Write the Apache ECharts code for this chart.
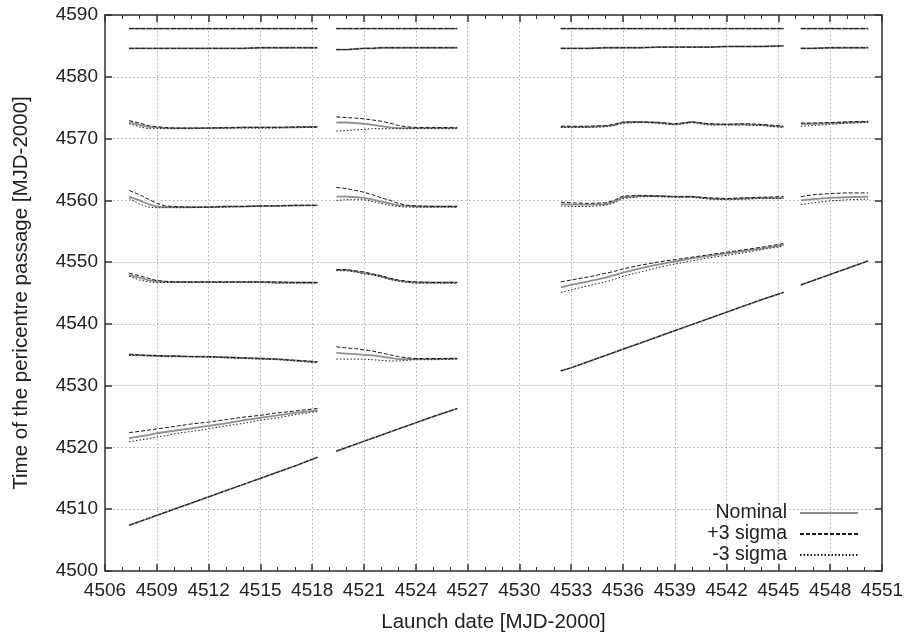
<!DOCTYPE html>
<html>
<head>
<meta charset="utf-8">
<script src="https://cdn.jsdelivr.net/npm/echarts@6/dist/echarts.min.js"></script>
<style>
html,body{margin:0;padding:0;background:#fff;overflow:hidden;}
#chart{width:906px;height:634px;}
</style>
</head>
<body>
<div id="chart"></div>
<script>
// Launch-date samples for the four launch windows
const xA = [4507.4, 4508, 4508.5, 4509, 4509.5, 4510, 4511, 4512, 4513, 4514, 4515, 4516, 4517, 4518.3];
const xB = [4519.4, 4520, 4520.5, 4521, 4521.5, 4522, 4522.5, 4523, 4523.5, 4524, 4525, 4526.4];
const xC = [4532.4, 4533, 4534, 4535, 4535.5, 4536, 4537, 4538, 4539, 4540, 4541, 4542, 4543, 4544, 4545.3];
const xD = [4546.3, 4547, 4548, 4549, 4550.2];

// Window A branches
const nomA = [
  [4587.8,4587.8,4587.8,4587.8,4587.8,4587.8,4587.8,4587.8,4587.8,4587.8,4587.8,4587.8,4587.8,4587.8],
  [4584.6,4584.6,4584.6,4584.6,4584.6,4584.6,4584.6,4584.6,4584.6,4584.6,4584.7,4584.7,4584.7,4584.7],
  [4572.6,4572.2,4571.9,4571.8,4571.7,4571.7,4571.7,4571.7,4571.7,4571.8,4571.8,4571.8,4571.8,4571.9],
  [4560.6,4560.0,4559.4,4559.0,4558.9,4558.9,4558.9,4558.9,4559.0,4559.0,4559.1,4559.1,4559.2,4559.2],
  [4547.9,4547.5,4547.1,4546.9,4546.8,4546.8,4546.8,4546.8,4546.8,4546.8,4546.8,4546.7,4546.7,4546.7],
  [4535.0,4534.9,4534.9,4534.8,4534.8,4534.8,4534.7,4534.7,4534.6,4534.5,4534.4,4534.3,4534.1,4533.8],
  [4521.5,4521.8,4522.0,4522.3,4522.5,4522.7,4523.1,4523.5,4523.9,4524.4,4524.8,4525.2,4525.6,4526.0],
  [4507.4,4508.0,4508.5,4509.0,4509.5,4510.0,4511.0,4512.0,4513.0,4514.0,4515.0,4516.0,4517.0,4518.4]
];
const plusA = [
  [4587.8,4587.8,4587.8,4587.8,4587.8,4587.8,4587.8,4587.8,4587.8,4587.8,4587.8,4587.8,4587.8,4587.8],
  [4584.6,4584.6,4584.6,4584.6,4584.6,4584.6,4584.6,4584.6,4584.6,4584.6,4584.7,4584.7,4584.7,4584.7],
  [4572.9,4572.5,4572.1,4571.9,4571.8,4571.7,4571.7,4571.7,4571.8,4571.8,4571.8,4571.8,4571.9,4571.9],
  [4561.6,4560.9,4560.2,4559.5,4559.1,4559.0,4558.9,4558.9,4559.0,4559.0,4559.1,4559.1,4559.2,4559.2],
  [4548.2,4547.8,4547.4,4547.0,4546.9,4546.8,4546.8,4546.8,4546.8,4546.8,4546.8,4546.8,4546.7,4546.7],
  [4535.1,4535.0,4534.9,4534.9,4534.8,4534.8,4534.7,4534.7,4534.6,4534.5,4534.4,4534.3,4534.1,4533.9],
  [4522.4,4522.6,4522.8,4523.0,4523.2,4523.4,4523.8,4524.1,4524.5,4524.9,4525.2,4525.6,4525.9,4526.3],
  [4507.4,4508.0,4508.5,4509.0,4509.5,4510.0,4511.0,4512.0,4513.0,4514.0,4515.0,4516.0,4517.0,4518.4]
];
const minusA = [
  [4587.8,4587.8,4587.8,4587.8,4587.8,4587.8,4587.8,4587.8,4587.8,4587.8,4587.8,4587.8,4587.8,4587.8],
  [4584.6,4584.6,4584.6,4584.6,4584.6,4584.6,4584.6,4584.6,4584.6,4584.6,4584.7,4584.7,4584.7,4584.7],
  [4572.4,4571.9,4571.6,4571.6,4571.6,4571.6,4571.6,4571.7,4571.7,4571.7,4571.7,4571.7,4571.8,4571.8],
  [4560.3,4559.4,4558.9,4558.8,4558.8,4558.8,4558.8,4558.9,4558.9,4559.0,4559.0,4559.1,4559.1,4559.2],
  [4547.7,4547.1,4546.8,4546.7,4546.7,4546.7,4546.7,4546.7,4546.7,4546.7,4546.7,4546.6,4546.6,4546.6],
  [4534.9,4534.9,4534.8,4534.8,4534.7,4534.7,4534.7,4534.6,4534.5,4534.4,4534.3,4534.2,4534.0,4533.7],
  [4520.9,4521.2,4521.4,4521.7,4521.9,4522.2,4522.6,4523.0,4523.5,4523.9,4524.4,4524.8,4525.3,4525.8],
  [4507.4,4508.0,4508.5,4509.0,4509.5,4510.0,4511.0,4512.0,4513.0,4514.0,4515.0,4516.0,4517.0,4518.4]
];

// Window B branches
const nomB = [
  [4587.8,4587.8,4587.8,4587.8,4587.8,4587.8,4587.8,4587.8,4587.8,4587.8,4587.8,4587.8],
  [4584.4,4584.4,4584.5,4584.6,4584.6,4584.7,4584.7,4584.7,4584.7,4584.7,4584.7,4584.7],
  [4572.6,4572.6,4572.5,4572.4,4572.2,4572.0,4571.8,4571.7,4571.7,4571.7,4571.7,4571.7],
  [4560.6,4560.6,4560.5,4560.4,4560.1,4559.8,4559.5,4559.2,4559.1,4559.0,4559.0,4559.0],
  [4548.7,4548.7,4548.5,4548.2,4548.0,4547.7,4547.3,4547.0,4546.8,4546.7,4546.7,4546.7],
  [4535.3,4535.2,4535.1,4535.0,4534.9,4534.7,4534.5,4534.3,4534.3,4534.3,4534.3,4534.4],
  [4519.4,4520.0,4520.5,4521.0,4521.5,4522.0,4522.5,4523.0,4523.5,4524.0,4525.0,4526.3]
];
const plusB = [
  [4587.8,4587.8,4587.8,4587.8,4587.8,4587.8,4587.8,4587.8,4587.8,4587.8,4587.8,4587.8],
  [4584.4,4584.4,4584.5,4584.6,4584.6,4584.7,4584.7,4584.7,4584.7,4584.7,4584.7,4584.7],
  [4573.5,4573.4,4573.3,4573.2,4573.0,4572.8,4572.5,4572.1,4571.9,4571.8,4571.8,4571.8],
  [4562.1,4561.9,4561.6,4561.3,4560.9,4560.4,4560.0,4559.5,4559.2,4559.1,4559.0,4559.0],
  [4548.8,4548.8,4548.6,4548.4,4548.1,4547.8,4547.4,4547.1,4546.9,4546.8,4546.7,4546.7],
  [4536.3,4536.1,4536.0,4535.8,4535.6,4535.3,4535.0,4534.7,4534.5,4534.4,4534.4,4534.4],
  [4519.4,4520.0,4520.5,4521.0,4521.5,4522.0,4522.5,4523.0,4523.5,4524.0,4525.0,4526.3]
];
const minusB = [
  [4587.8,4587.8,4587.8,4587.8,4587.8,4587.8,4587.8,4587.8,4587.8,4587.8,4587.8,4587.8],
  [4584.4,4584.4,4584.5,4584.6,4584.6,4584.7,4584.7,4584.7,4584.7,4584.7,4584.7,4584.7],
  [4571.2,4571.3,4571.4,4571.5,4571.6,4571.6,4571.6,4571.6,4571.6,4571.6,4571.6,4571.6],
  [4560.0,4560.1,4560.1,4560.1,4559.8,4559.5,4559.2,4559.0,4558.9,4558.9,4558.9,4558.9],
  [4548.6,4548.6,4548.4,4548.1,4547.9,4547.6,4547.2,4546.9,4546.7,4546.6,4546.6,4546.6],
  [4534.3,4534.3,4534.3,4534.3,4534.2,4534.1,4534.0,4534.0,4534.1,4534.2,4534.2,4534.3],
  [4519.4,4520.0,4520.5,4521.0,4521.5,4522.0,4522.5,4523.0,4523.5,4524.0,4525.0,4526.3]
];

// Window C branches
const nomC = [
  [4587.8,4587.8,4587.8,4587.8,4587.8,4587.8,4587.8,4587.8,4587.8,4587.8,4587.8,4587.8,4587.8,4587.8,4587.8],
  [4584.6,4584.6,4584.6,4584.7,4584.7,4584.7,4584.7,4584.8,4584.8,4584.8,4584.8,4584.9,4584.9,4584.9,4585.0],
  [4571.9,4571.9,4571.9,4572.0,4572.2,4572.6,4572.7,4572.6,4572.3,4572.7,4572.3,4572.3,4572.3,4572.2,4571.9],
  [4559.4,4559.3,4559.3,4559.4,4559.8,4560.5,4560.7,4560.7,4560.6,4560.6,4560.3,4560.2,4560.3,4560.4,4560.4],
  [4545.9,4546.3,4546.9,4547.5,4547.9,4548.3,4549.0,4549.6,4550.1,4550.6,4551.0,4551.4,4551.8,4552.2,4552.8],
  [4532.4,4532.9,4533.9,4534.9,4535.4,4535.9,4536.9,4537.9,4538.9,4539.9,4540.9,4541.9,4542.9,4543.9,4545.1]
];
const plusC = [
  [4587.8,4587.8,4587.8,4587.8,4587.8,4587.8,4587.8,4587.8,4587.8,4587.8,4587.8,4587.8,4587.8,4587.8,4587.8],
  [4584.6,4584.6,4584.6,4584.7,4584.7,4584.7,4584.7,4584.8,4584.8,4584.8,4584.8,4584.9,4584.9,4584.9,4585.0],
  [4572.0,4572.0,4572.0,4572.1,4572.3,4572.7,4572.7,4572.6,4572.4,4572.7,4572.4,4572.3,4572.4,4572.3,4572.0],
  [4559.7,4559.6,4559.5,4559.6,4560.0,4560.7,4560.8,4560.7,4560.6,4560.6,4560.4,4560.3,4560.4,4560.5,4560.6],
  [4546.8,4547.1,4547.6,4548.2,4548.5,4548.9,4549.5,4550.0,4550.4,4550.8,4551.2,4551.6,4552.0,4552.4,4553.0],
  [4532.4,4532.9,4533.9,4534.9,4535.4,4535.9,4536.9,4537.9,4538.9,4539.9,4540.9,4541.9,4542.9,4543.9,4545.1]
];
const minusC = [
  [4587.8,4587.8,4587.8,4587.8,4587.8,4587.8,4587.8,4587.8,4587.8,4587.8,4587.8,4587.8,4587.8,4587.8,4587.8],
  [4584.6,4584.6,4584.6,4584.7,4584.7,4584.7,4584.7,4584.8,4584.8,4584.8,4584.8,4584.9,4584.9,4584.9,4585.0],
  [4571.8,4571.8,4571.8,4571.9,4572.1,4572.5,4572.6,4572.5,4572.2,4572.6,4572.2,4572.2,4572.2,4572.1,4571.8],
  [4559.1,4559.0,4559.0,4559.2,4559.6,4560.3,4560.6,4560.6,4560.5,4560.5,4560.2,4560.1,4560.2,4560.3,4560.3],
  [4545.1,4545.5,4546.2,4546.8,4547.2,4547.7,4548.4,4549.1,4549.7,4550.2,4550.7,4551.1,4551.5,4552.0,4552.6],
  [4532.4,4532.9,4533.9,4534.9,4535.4,4535.9,4536.9,4537.9,4538.9,4539.9,4540.9,4541.9,4542.9,4543.9,4545.1]
];

// Window D branches
const nomD = [
  [4587.8,4587.8,4587.8,4587.8,4587.8],
  [4584.6,4584.6,4584.7,4584.7,4584.7],
  [4572.4,4572.4,4572.5,4572.6,4572.7],
  [4560.0,4560.2,4560.4,4560.5,4560.6],
  [4546.3,4547.0,4548.0,4549.0,4550.2]
];
const plusD = [
  [4587.8,4587.8,4587.8,4587.8,4587.8],
  [4584.6,4584.6,4584.7,4584.7,4584.7],
  [4572.5,4572.5,4572.6,4572.7,4572.8],
  [4560.6,4560.9,4561.1,4561.2,4561.2],
  [4546.3,4547.0,4548.0,4549.0,4550.2]
];
const minusD = [
  [4587.8,4587.8,4587.8,4587.8,4587.8],
  [4584.6,4584.6,4584.7,4584.7,4584.7],
  [4572.0,4572.1,4572.3,4572.5,4572.6],
  [4559.3,4559.6,4559.9,4560.1,4560.2],
  [4546.3,4547.0,4548.0,4549.0,4550.2]
];

const seriesNames = ['Nominal', '+3 sigma', '-3 sigma'];
const xTitle = 'Launch date [MJD-2000]';
const yTitle = 'Time of the pericentre passage [MJD-2000]';

const windows = [
  [xA, nomA, plusA, minusA],
  [xB, nomB, plusB, minusB],
  [xC, nomC, plusC, minusC],
  [xD, nomD, plusD, minusD]
];

const styles = [
  { color: '#8f8f8f', width: 1.8, type: 'solid', z: 2 },
  { color: '#1a1a1a', width: 1, type: [4, 2], z: 3 },
  { color: '#1a1a1a', width: 1, type: [1.5, 2], z: 4 }
];

const series = [];
for (let k = 0; k < 3; k++) {
  windows.forEach(w => {
    const xs = w[0];
    w[k + 1].forEach(ys => {
      series.push({
        name: seriesNames[k],
        type: 'line',
        symbol: 'none',
        showSymbol: false,
        silent: true,
        animation: false,
        z: styles[k].z,
        itemStyle: { color: styles[k].color },
        lineStyle: { color: styles[k].color, width: styles[k].width, type: styles[k].type },
        data: xs.map((x, i) => [x, ys[i]])
      });
    });
  });
}

const font = 'Liberation Sans, Arial, Helvetica, sans-serif';
const axisColor = '#333';
const plain = v => String(v);

const chart = echarts.init(document.getElementById('chart'));
chart.setOption({
  backgroundColor: '#fff',
  animation: false,
  grid: { left: 105, right: 24, top: 15, bottom: 63, containLabel: false, outerBoundsMode: 'none' },
  legend: {
    data: seriesNames,
    orient: 'vertical',
    align: 'right',
    right: 47,
    bottom: 69,
    itemWidth: 58,
    itemHeight: 14,
    itemGap: 1,
    padding: 0,
    selectedMode: false,
    itemStyle: { opacity: 0 },
    textStyle: { fontFamily: font, fontSize: 19.5, color: '#222', padding: [0, 8, 0, 0] }
  },
  xAxis: [
    {
      type: 'value', min: 4506, max: 4551, interval: 3, position: 'bottom',
      name: xTitle, nameLocation: 'middle', nameGap: 41,
      nameTextStyle: { fontFamily: font, fontSize: 20.5, color: '#222' },
      axisLine: { show: true, onZero: false, lineStyle: { color: axisColor, width: 1.5 } },
      axisTick: { show: true, inside: true, length: 7, lineStyle: { color: axisColor, width: 1.5 } },
      minorTick: { show: true, splitNumber: 3, length: 4, lineStyle: { color: axisColor, width: 1 } },
      axisLabel: { fontFamily: font, fontSize: 19, color: '#222', margin: 10, formatter: plain },
      splitLine: { show: true, lineStyle: { color: '#b0b0b0', width: 1, type: [1.5, 2.5] } }
    },
    {
      type: 'value', min: 4506, max: 4551, interval: 3, position: 'top',
      axisLine: { show: true, onZero: false, lineStyle: { color: axisColor, width: 1.5 } },
      axisTick: { show: true, inside: true, length: 7, lineStyle: { color: axisColor, width: 1.5 } },
      minorTick: { show: true, splitNumber: 3, length: 4, lineStyle: { color: axisColor, width: 1 } },
      axisLabel: { show: false },
      splitLine: { show: false }
    }
  ],
  yAxis: [
    {
      type: 'value', min: 4500, max: 4590, interval: 10, position: 'left',
      name: yTitle, nameLocation: 'middle', nameGap: 73, nameRotate: 90,
      nameTextStyle: { fontFamily: font, fontSize: 20.5, color: '#222' },
      axisLine: { show: true, onZero: false, lineStyle: { color: axisColor, width: 1.5 } },
      axisTick: { show: true, inside: true, length: 7, lineStyle: { color: axisColor, width: 1.5 } },
      axisLabel: { fontFamily: font, fontSize: 19, color: '#222', margin: 7, formatter: plain },
      splitLine: { show: true, lineStyle: { color: '#b0b0b0', width: 1, type: [1.5, 2.5] } }
    },
    {
      type: 'value', min: 4500, max: 4590, interval: 10, position: 'right',
      axisLine: { show: true, onZero: false, lineStyle: { color: axisColor, width: 1.5 } },
      axisTick: { show: true, inside: true, length: 7, lineStyle: { color: axisColor, width: 1.5 } },
      axisLabel: { show: false },
      splitLine: { show: false }
    }
  ],
  series: series
});
</script>
</body>
</html>
